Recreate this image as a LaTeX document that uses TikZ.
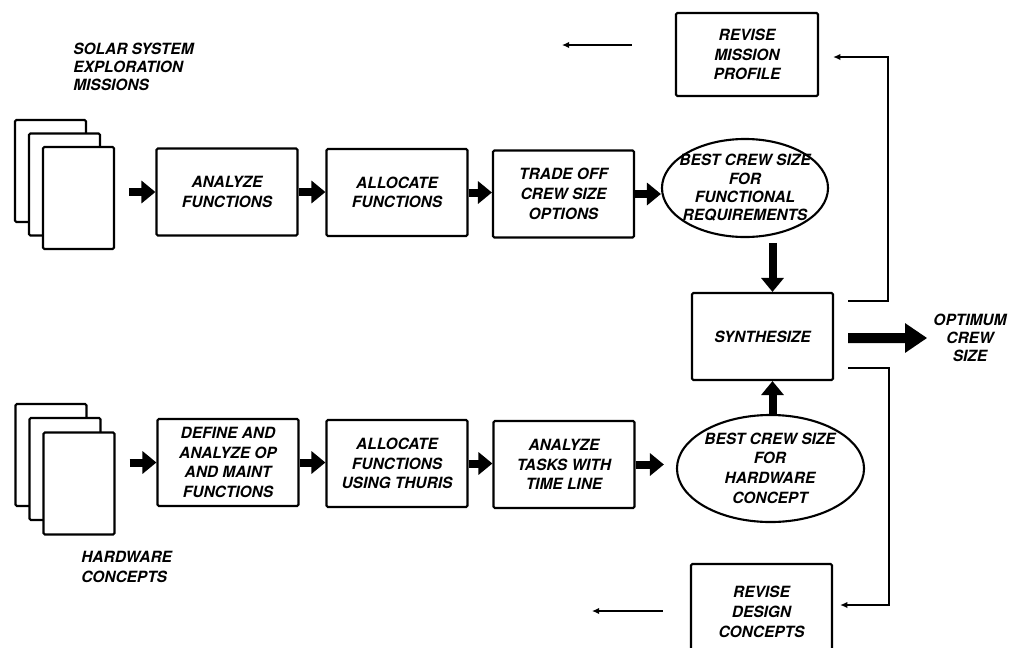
\documentclass[tikz,border=0pt]{standalone}
\usepackage{fontspec}
\setmainfont{TeX Gyre Heros}
\usetikzlibrary{arrows.meta,shapes.geometric,calc}
\begin{document}
\begin{tikzpicture}[x=0.025cm,y=-0.025cm,
 every node/.style={font=\fontsize{11}{14}\selectfont\bfseries\itshape, align=center},
 box/.style={draw, line width=1.5pt, rounded corners=1pt, minimum width=3.525cm, minimum height=2.175cm, inner sep=1pt},
 page/.style={draw, fill=white, line width=1.5pt, rounded corners=1pt, minimum width=1.775cm, minimum height=2.55cm},
 oval/.style={draw, ellipse, line width=1.5pt, inner sep=0pt},
 ovaltext/.style={font=\fontsize{11}{13}\selectfont\bfseries\itshape},
 flow/.style={line width=0.2cm, -{Triangle[length=0.35cm,width=0.55cm]}},
 bigflow/.style={line width=0.25cm, -{Triangle[length=0.55cm,width=0.7cm]}},
 fb/.style={line width=1.5pt, -{Latex[length=0.18cm,width=0.16cm]}},
 lab/.style={font=\fontsize{11}{12.8}\selectfont\bfseries\itshape, inner sep=0pt}
]
\fill[white] (0,0) rectangle (1015,647);
\useasboundingbox (0,0) rectangle (1015,647);

% top row
\node[page] (p1) at (50.5,171) {};
\node[page] (p2) at (64.5,184.5) {};
\node[page] (p3) at (78.5,198) {};
\node[lab, align=left, anchor=west] (sol) at (73,67) {SOLAR SYSTEM\\EXPLORATION\\MISSIONS};

\node[box] (an) at (227,192) {ANALYZE\\FUNCTIONS};
\node[box] (al) at (397,192.5) {ALLOCATE\\FUNCTIONS};
\node[box] (tr) at (563.5,194) {TRADE OFF\\CREW SIZE\\OPTIONS};
\node[oval, minimum width=4.15cm, minimum height=2.45cm] (e1) at (745,188) {};
\node[ovaltext] (e1t) at (745,188) {BEST CREW SIZE\\FOR\\FUNCTIONAL\\REQUIREMENTS};

% center column
\node[box, minimum height=2.075cm, minimum width=3.55cm] (rm) at (747,54.5) {REVISE\\MISSION\\PROFILE};
\node[box] (syn) at (762.5,336.5) {SYNTHESIZE};
\node[box, minimum height=2.4cm] (rd) at (761.5,612) {REVISE\\DESIGN\\CONCEPTS};
\node[lab] (opt) at (970,338) {OPTIMUM\\CREW\\SIZE};

% bottom row
\node[page] (p4) at (51,455) {};
\node[page] (p5) at (65,469) {};
\node[page] (p6) at (79,483.5) {};
\node[lab, align=left, anchor=west, font=\fontsize{11}{14}\selectfont\bfseries\itshape] (hw) at (81,567) {HARDWARE\\CONCEPTS};

\node[box] (df) at (228,462.5) {DEFINE AND\\ANALYZE OP\\AND MAINT\\FUNCTIONS};
\node[box] (al2) at (397,463.5) {ALLOCATE\\FUNCTIONS\\USING THURIS};
\node[box] (at) at (564,464.5) {ANALYZE\\TASKS WITH\\TIME LINE};
\node[oval, minimum width=4.675cm, minimum height=2.675cm] (e2) at (770.5,468.5) {};
\node (e2t) at (770,468) {BEST CREW SIZE\\FOR\\HARDWARE\\CONCEPT};

% flow arrows top
\draw[flow, shorten <=0.35cm] (p3.east |- an.west) -- (an.west);
\draw[flow] (an.east) -- (an.east -| al.west);
\draw[flow] (al.east) -- (al.east -| tr.west);
\draw[flow] (tr.east) -- (tr.east -| e1.west);
\draw[flow, shorten <=0.12cm] ($(e1.south -| syn.north)+(10,0)$) -- ($(syn.north)+(10,0)$);

% flow arrows bottom
\draw[flow, shorten <=0.35cm] (p6.east |- df.west) -- (df.west);
\draw[flow] (df.east) -- (df.east -| al2.west);
\draw[flow] (al2.east) -- (al2.east -| at.west);
\draw[flow, shorten >=0.3cm] (at.east) -- (at.east -| e2.west);
\draw[flow] ($(e2.north -| syn.south)+(10,0)$) -- ($(syn.south)+(10,0)$);

% output
\draw[bigflow, shorten >=0.15cm] ($(syn.east)+(14,1.5)$) -- (opt.west);

% feedback
\draw[fb] ($(syn.north east)+(14,9)$) -- ++(40,0) |- ($(rm.east)+(14,2.5)$);
\draw[fb] ($(syn.south east)+(14,-13)$) -- ++(41,0) |- ($(rd.east)+(7,-7)$);
\draw[fb] ($(rm.west)+(-43,-9.5)$) -- ++(-70,0);
\draw[fb] ($(rd.west)+(-27,-1)$) -- ++(-71,0);
\end{tikzpicture}
\end{document}
